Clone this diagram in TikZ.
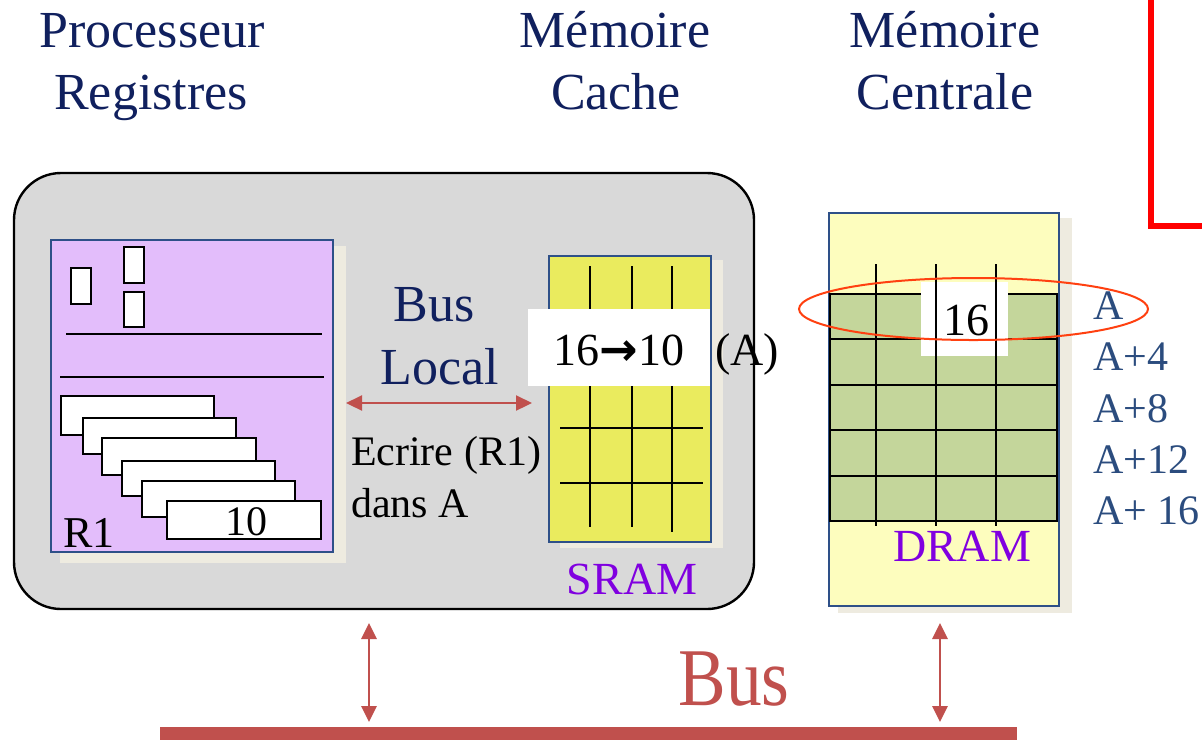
\documentclass[tikz,border=0pt]{standalone}
\usepackage{fontspec}
\setmainfont{Liberation Serif}
\newfontfamily\symfont{DejaVu Sans}
\usetikzlibrary{arrows.meta,shapes.geometric}
\definecolor{navy}{HTML}{10205E}
\definecolor{busred}{HTML}{C0504D}
\definecolor{purplefill}{HTML}{E3BDFB}
\definecolor{boxborder}{HTML}{2E5088}
\definecolor{shadowc}{HTML}{EEEBE0}
\definecolor{sramfill}{HTML}{EAEB5E}
\definecolor{dramfill}{HTML}{FDFDBE}
\definecolor{greenfill}{HTML}{C4D69B}
\definecolor{labelblue}{HTML}{2B4C7E}
\definecolor{purpletext}{HTML}{8000E0}
\definecolor{ellred}{HTML}{FF4010}
\definecolor{grayfill}{HTML}{D9D9D9}
\begin{document}
\begin{tikzpicture}[x=0.5pt,y=-0.5pt,
  txt/.style={inner sep=0pt,outer sep=0pt,anchor=base},
  txtw/.style={inner sep=0pt,outer sep=0pt,anchor=base west},
  head/.style={txt,text=navy,font=\fontsize{26}{30}\selectfont},
  memlbl/.style={txt,text=purpletext,font=\fontsize{23}{27}\selectfont},
  addr/.style={txtw,text=labelblue,font=\fontsize{21}{25}\selectfont},
  blk/.style={font=\fontsize{21}{25}\selectfont},
  shadowbox/.style={fill=shadowc,draw=none},
  membox/.style={draw=boxborder,line width=1pt},
  regbox/.style={draw=black,fill=white,line width=1pt},
  gridline/.style={draw=black,line width=1.2pt},
  busarrow/.style={draw=busred,line width=1.1pt,{Triangle[length=8pt,width=7.5pt]}-{Triangle[length=8pt,width=7.5pt]}},
  vbusarrow/.style={draw=busred,line width=1.4pt,{Triangle[length=8pt,width=7.5pt]}-{Triangle[length=8pt,width=7.5pt]}}]
\useasboundingbox (0,0) rectangle (1202,740);

% headings
\node[head] (h1a) at (152,47) {Processeur};
\node[head] (h1b) at (151,109) {Registres};
\node[head] (h2a) at (615,47) {Mémoire};
\node[head] (h2b) at (616,109) {Cache};
\node[head] (h3a) at (945,47) {Mémoire};
\node[head] (h3b) at (945,109) {Centrale};

% red L line
\draw[red,line width=3pt] (1151,0) -- (1151,225.5) -- (1202,225.5);

% gray processor box
\draw[fill=grayfill,draw=black,line width=1.2pt,rounded corners=23.5pt] (14,173) rectangle (754,609);

% register box
\fill[shadowbox] (60,246) rectangle (346,563);
\draw[membox,fill=purplefill] (51,240) rectangle (333,552);
\draw[regbox] (71,268) rectangle (91,304);
\draw[regbox] (124,247) rectangle (144,283);
\draw[regbox] (124,292) rectangle (144,327);
\draw[black,line width=1.2pt] (66,334) -- (322,334);
\draw[black,line width=1.2pt] (60,377) -- (324,377);
\draw[regbox] (61,396) rectangle (214,435);
\draw[regbox] (83,418) rectangle (236,454);
\draw[regbox] (102,438) rectangle (256,475);
\draw[regbox] (122,461) rectangle (275,496);
\draw[regbox] (142,481) rectangle (295,517);
\draw[regbox] (167,501) rectangle (321,539);
\node[txt,blk] (ten) at (246,535) {10};
\node[txtw,font=\fontsize{22}{26}\selectfont] (r1) at (63,547) {R1};

% local bus
\node[txt,text=navy,font=\fontsize{26}{30}\selectfont] (busw) at (434,321) {Bus};
\node[txt,text=navy,font=\fontsize{26}{30}\selectfont] (local) at (440,384) {Local};
\coordinate (lbL) at (346,403);
\coordinate (lbR) at (532,403);
\draw[busarrow] (lbL) -- (lbR);
\node[txtw,blk] (ecr) at (351,465) {Ecrire (R1)};
\node[txtw,blk] (dans) at (351,517) {dans A};

% SRAM
\fill[shadowbox] (560,260) rectangle (723,548);
\draw[membox,fill=sramfill] (549,256) rectangle (711,542);
\foreach \x/\yb in {590/527,632/527,672/532} \draw[gridline] (\x,266) -- (\x,\yb);
\foreach \y in {428,483} \draw[gridline] (560,\y) -- (703,\y);
\fill[white] (528,309) rectangle (710,386);
\node[txt,font=\fontsize{23}{27}\selectfont] (val) at (619,365) {16{\symfont\bfseries →}10};
\node[txtw,font=\fontsize{23}{27}\selectfont] (aa) at (715,365) {(A)};
\node[memlbl] (sram) at (632,594) {SRAM};

% DRAM
\fill[shadowbox] (838,218) rectangle (1072,613);
\draw[membox,fill=dramfill] (829,213) rectangle (1059,606);
\draw[draw=black,line width=1.2pt,fill=greenfill] (830,294) rectangle (1057,521);
\foreach \y in {339,385,430,476} \draw[gridline] (830,\y) -- (1057,\y);
\fill[white] (921,282) rectangle (1008,356);
\foreach \x in {876,936,996} \draw[gridline] (\x,264) -- (\x,526);
\node[txt,font=\fontsize{23}{27}\selectfont] (sixteen) at (966,335) {16};
\node[memlbl] (dram) at (962,561) {DRAM};
\draw[ellred,line width=1pt] (973.5,309) ellipse [x radius=174.5, y radius=31];

\node[addr] (a0) at (1093,319) {A};
\node[addr] (a4) at (1093,370) {A+4};
\node[addr] (a8) at (1093,422) {A+8};
\node[addr] (a12) at (1093,473) {A+12};
\node[addr] (a16) at (1093,524) {A+ 16};

% system bus
\fill[busred] (160,727) rectangle (1017,740);
\coordinate (c1t) at (369,623);
\coordinate (c1b) at (369,722);
\coordinate (c2t) at (940,623);
\coordinate (c2b) at (940,722);
\draw[vbusarrow] (c1t) -- (c1b);
\draw[vbusarrow] (c2t) -- (c2b);
\node[txt,text=busred,font=\fontsize{41}{45}\selectfont,xscale=0.87] (bus) at (734,705) {Bus};
\end{tikzpicture}
\end{document}
